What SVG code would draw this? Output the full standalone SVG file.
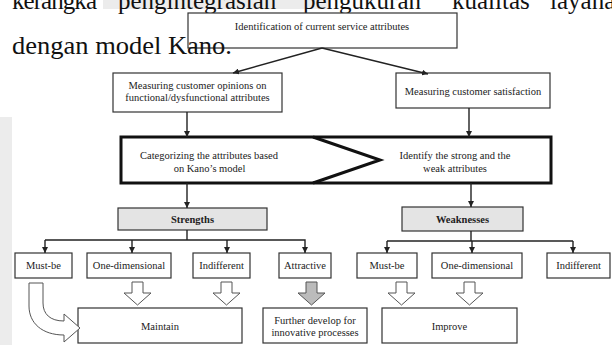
<svg xmlns="http://www.w3.org/2000/svg" width="612" height="345" viewBox="0 0 612 345" font-family="Liberation Serif, Times New Roman, DejaVu Serif, serif">
<style>
text{font-family:'Liberation Serif','Times New Roman','DejaVu Serif',serif}
.doc{font-size:25px;fill:#111}
.t{font-size:10.5px;fill:#222;text-anchor:middle}
.b{font-weight:bold}
.box{fill:#fff;stroke:#333;stroke-width:1.2}
.gbox{fill:#e4e4e4;stroke:#333;stroke-width:1.2}
.ln{fill:none;stroke:#222;stroke-width:1.4}
.hol{fill:#fff;stroke:#555;stroke-width:1}
.holg{fill:#bbb;stroke:#555;stroke-width:1}
</style>
<defs>
<marker id="ah" viewBox="0 0 10 10" refX="10" refY="5" markerWidth="6" markerHeight="6" markerUnits="userSpaceOnUse" orient="auto">
<path d="M0,0 L10,5 L0,10 Z" fill="#222"/>
</marker>
</defs>
<rect width="612" height="345" fill="#fff"/>
<rect x="0" y="117" width="12" height="228" fill="#ececec"/>
<rect x="103" y="0" width="225" height="9" fill="#ececec"/>
<text class="doc" y="9"><tspan x="12" textLength="85">kerangka</tspan><tspan x="118">pengintegrasian</tspan><tspan x="303">pengukuran</tspan><tspan x="452">kualitas</tspan><tspan x="550">layanan</tspan></text>

<g id="n-ident"><rect class="box" x="188" y="13" width="269" height="35"/><text class="t" x="322" y="30">Identification of current service attributes</text></g>
<text class="doc" x="12" y="54" textLength="220" lengthAdjust="spacingAndGlyphs">dengan model Kano.</text>

<g id="n-opin"><rect class="box" x="113" y="73" width="169" height="39"/><text class="t" x="197.5" y="88.5">Measuring customer opinions on</text><text class="t" x="197.5" y="101">functional/dysfunctional attributes</text></g>
<g id="n-sat"><rect class="box" x="396" y="73" width="154" height="35"/><text class="t" x="473" y="95">Measuring customer satisfaction</text></g>

<g id="n-cat"><rect x="121" y="137" width="430" height="46" fill="#fff" stroke="#111" stroke-width="3"/><polyline points="313,137 380,160 313,183" fill="none" stroke="#111" stroke-width="3"/>
<text class="t" x="209" y="158.5">Categorizing the attributes based</text><text class="t" x="209.5" y="171.5">on Kano’s model</text>
<text class="t" x="455" y="158.5">Identify the strong and the</text><text class="t" x="455" y="171.5">weak attributes</text></g>

<g id="n-str"><rect class="gbox" x="118" y="208" width="149" height="22"/><text class="t b" x="192.5" y="223">Strengths</text></g>
<g id="n-weak"><rect class="gbox" x="402" y="207" width="121" height="24"/><text class="t b" x="462.5" y="223">Weaknesses</text></g>

<g id="n-s-must"><rect class="box" x="15" y="253" width="57" height="25"/><text class="t" x="43.5" y="269">Must-be</text></g>
<g id="n-s-one"><rect class="box" x="87" y="253" width="84" height="25"/><text class="t" x="129" y="269">One-dimensional</text></g>
<g id="n-s-ind"><rect class="box" x="193" y="253" width="57" height="25"/><text class="t" x="221.5" y="269">Indifferent</text></g>
<g id="n-s-att"><rect class="box" x="279" y="253" width="52" height="25"/><text class="t" x="305" y="269">Attractive</text></g>
<g id="n-w-must"><rect class="box" x="357" y="253" width="60" height="25"/><text class="t" x="387" y="269">Must-be</text></g>
<g id="n-w-one"><rect class="box" x="432" y="253" width="90" height="25"/><text class="t" x="477" y="269">One-dimensional</text></g>
<g id="n-w-ind"><rect class="box" x="547" y="253" width="63" height="25"/><text class="t" x="578.5" y="269">Indifferent</text></g>

<g id="n-maintain"><rect class="box" x="78" y="308" width="164" height="35"/><text class="t" x="160" y="330">Maintain</text></g>
<g id="n-further"><rect class="box" x="263" y="308" width="104" height="35"/><text class="t" x="315" y="323.5">Further develop for</text><text class="t" x="315" y="336">innovative processes</text></g>
<g id="n-improve"><rect class="box" x="382" y="308" width="135" height="35"/><text class="t" x="449.5" y="330">Improve</text></g>

<g id="connectors">
<line class="ln" x1="322" y1="48" x2="233" y2="73" marker-end="url(#ah)"/>
<line class="ln" x1="322" y1="48" x2="428" y2="74" marker-end="url(#ah)"/>
<line class="ln" x1="187" y1="112" x2="187" y2="137" marker-end="url(#ah)"/>
<line class="ln" x1="469" y1="108" x2="469" y2="137" marker-end="url(#ah)"/>
<line class="ln" x1="187" y1="183" x2="187" y2="208" marker-end="url(#ah)"/>
<line class="ln" x1="471" y1="183" x2="471" y2="207" marker-end="url(#ah)"/>
<polyline class="ln" points="187,230 187,240"/>
<polyline class="ln" points="45,240 305,240 305,253" marker-end="url(#ah)"/>
<line class="ln" x1="45" y1="240" x2="45" y2="253" marker-end="url(#ah)"/>
<line class="ln" x1="132" y1="240" x2="132" y2="253" marker-end="url(#ah)"/>
<line class="ln" x1="227" y1="240" x2="227" y2="253" marker-end="url(#ah)"/>
<polyline class="ln" points="471,231 471,241"/>
<polyline class="ln" points="387,241 573,241"/>
<line class="ln" x1="387" y1="241" x2="387" y2="253" marker-end="url(#ah)"/>
<line class="ln" x1="472" y1="241" x2="472" y2="253" marker-end="url(#ah)"/>
<line class="ln" x1="573" y1="241" x2="573" y2="253" marker-end="url(#ah)"/>
<path class="hol" d="M132,282 H143 V293 H151 L137.5,305 L124,293 H132 Z"/>
<path class="hol" d="M221,282 H232 V293 H240 L226.5,305 L213,293 H221 Z"/>
<path class="holg" d="M306,282 H317 V293 H325 L311.5,305 L298,293 H306 Z"/>
<path class="hol" d="M396,282 H407 V293 H415 L401.5,305 L388,293 H396 Z"/>
<path class="hol" d="M464,282 H475 V293 H483 L469.5,305 L456,293 H464 Z"/>
<path class="hol" d="M29,283 H43 V303 C43,314 50,321 64,321 V314 L80,328 L64,342 V335 C42,335 29,323 29,306 Z"/>
</g>
</svg>
